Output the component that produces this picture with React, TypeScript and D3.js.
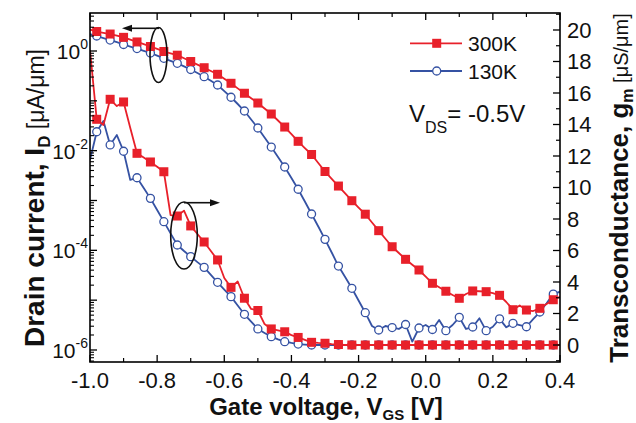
import React from 'react';
import * as d3 from 'd3';

// Gate-voltage sweep [V]
const VGS = [
  -1.0, -0.98, -0.96, -0.94, -0.92, -0.9, -0.88, -0.86, -0.84, -0.82, -0.8, -0.78, -0.76, -0.74, -0.72,
  -0.7, -0.68, -0.66, -0.64, -0.62, -0.6, -0.58, -0.56, -0.54, -0.52, -0.5, -0.48, -0.46, -0.44, -0.42,
  -0.4, -0.38, -0.36, -0.34, -0.32, -0.3, -0.28, -0.26, -0.24, -0.22, -0.2, -0.18, -0.16, -0.14, -0.12,
  -0.1, -0.08, -0.06, -0.04, -0.02, 0.0, 0.02, 0.04, 0.06, 0.08, 0.1, 0.12, 0.14, 0.16, 0.18,
  0.2, 0.22, 0.24, 0.26, 0.28, 0.3, 0.32, 0.34, 0.36, 0.38, 0.4,
];

// Drain current [uA/um]
const ID_300K = [
  2.7, 2.46, 2.32, 2.19, 2.04, 1.88, 1.69, 1.52, 1.37, 1.23, 1.1, 0.977, 0.899, 0.824, 0.714,
  0.615, 0.533, 0.462, 0.397, 0.341, 0.277, 0.225, 0.178, 0.142, 0.113, 0.0904, 0.0701, 0.0544, 0.0403, 0.0298,
  0.0214, 0.0154, 0.0113, 0.00838, 0.00565, 0.00382, 0.00272, 0.00195, 0.00139, 0.00099, 0.000723, 0.000531, 0.000362, 0.000248, 0.000171,
  0.000118, 8.83e-5, 6.6e-5, 5.14e-5, 4.03e-5, 2.96e-5, 2.18e-5, 1.81e-5, 1.51e-5, 1.27e-5, 1.09e-5, 1.33e-5, 1.53e-5, 1.51e-5, 1.48e-5,
  1.39e-5, 1.25e-5, 9.18e-6, 6.43e-6, 7.82e-6, 6.34e-6, 6.05e-6, 6.86e-6, 8.37e-6, 1.02e-5, 1.17e-5,
];
const ID_130K = [
  2.19, 2.0, 1.82, 1.66, 1.5, 1.35, 1.23, 1.12, 1.01, 0.912, 0.809, 0.714, 0.636, 0.567, 0.491,
  0.425, 0.362, 0.305, 0.252, 0.208, 0.157, 0.118, 0.0864, 0.0625, 0.0422, 0.0285, 0.0184, 0.0118, 0.00746, 0.0047,
  0.00283, 0.00168, 0.000955, 0.000536, 0.000301, 0.000166, 9.04e-5, 4.84e-5, 2.92e-5, 1.73e-5, 9.84e-6, 5.6e-6, 3.03e-6, 2.52e-6, 3.03e-6,
  2.82e-6, 2.64e-6, 3.25e-6, 1.47e-6, 2.76e-6, 3.17e-6, 2.58e-6, 4.0e-6, 2.44e-6, 3.17e-6, 4.53e-6, 2.64e-6, 2.89e-6, 4.32e-6, 2.44e-6,
  2.93e-6, 4.22e-6, 2.85e-6, 3.43e-6, 3.17e-6, 2.93e-6, 4.15e-6, 5.78e-6, 8.65e-6, 1.32e-5, 1.48e-5,
];

// Transconductance [uS/um]
const GM_300K = [
  18.73, 14.33, 13.97, 15.6, 15.17, 15.43, 13.78, 12.17, 11.9, 11.62, 11.32, 11.0, 8.25, 8.19, 8.53,
  7.56, 7.05, 6.54, 5.97, 5.4, 4.25, 3.66, 4.03, 2.97, 2.29, 2.19, 1.33, 1.02, 0.93, 0.84,
  0.63, 0.48, 0.32, 0.17, 0.13, 0.11, 0.06, 0.03, 0, 0, 0, 0, 0, 0, 0,
  0, 0, 0, 0, 0, 0, 0, 0, 0, 0, 0, 0, 0, 0, 0,
  0, 0, 0, 0, 0, 0, 0, 0, 0, 0, 0,
];
const GM_130K = [
  11.75, 13.54, 14.22, 12.7, 13.33, 12.3, 10.48, 10.62, 9.97, 9.31, 8.57, 7.83, 7.09, 6.35, 5.97,
  5.61, 5.26, 4.93, 4.45, 3.98, 3.52, 3.07, 2.51, 1.95, 1.48, 1.02, 0.76, 0.53, 0.36, 0.21,
  0.13, 0.06, 0.03, 0, 0, 0, 0, 0, 0, 0, 0, 0, 0, 0, 0,
  0, 0, 0, 0, 0, 0, 0, 0, 0, 0, 0, 0, 0, 0, 0,
  0, 0, 0, 0, 0, 0, 0, 0, 0, 0, 0,
];

const X_TICKS = [-1.0, -0.8, -0.6, -0.4, -0.2, 0.0, 0.2, 0.4];
const X_TICK_LABELS = ['-1.0', '-0.8', '-0.6', '-0.4', '-0.2', '0.0', '0.2', '0.4'];
const X_MINOR_TICKS = [-0.9, -0.7, -0.5, -0.3, -0.1, 0.1, 0.3];
const ID_DECADES = [-6, -5, -4, -3, -2, -1, 0];
const ID_LABEL_EXPONENTS = ['0', '-2', '-4', '-6'];
const GM_TICKS = [0, 2, 4, 6, 8, 10, 12, 14, 16, 18, 20];
const SERIES_LABELS = ['300K', '130K'];
const VDS_LABEL = ['V', 'DS', '= -0.5V'];

const RED = '#e8202a';
const BLUE = '#3552a3';
const FONT = '"Liberation Sans", Arial, Helvetica, sans-serif';

const W = 636;
const H = 423;
const L = 90;
const R = 560;
const T = 13;
const B = 362;

export default function App() {
  const x = d3.scaleLinear().domain([-1, 0.4]).range([L, R]);
  const yI = d3.scaleLog().domain([Math.pow(10, -6.241), Math.pow(10, 0.7626)]).range([B, T]);
  const yG = d3.scaleLinear().domain([-1.0794, 21.079]).range([B, T]);

  const lineI = d3.line<number>().x((_, i) => x(VGS[i])).y((d) => yI(d));
  const lineG = d3.line<number>().x((_, i) => x(VGS[i])).y((d) => yG(d));

  const marked = (arr: number[]) => arr.map((v, i) => ({ v, i })).filter((p) => p.i % 2 === 1);

  const SQ = 9;
  const squares = (arr: number[], y: (v: number) => number, key: string) =>
    marked(arr).map((p) => (
      <rect key={key + p.i} x={x(VGS[p.i]) - SQ / 2} y={y(p.v) - SQ / 2} width={SQ} height={SQ} fill={RED} />
    ));
  const circles = (arr: number[], y: (v: number) => number, key: string) =>
    marked(arr).map((p) => (
      <circle key={key + p.i} cx={x(VGS[p.i])} cy={y(p.v)} r={4} fill="#fff" stroke={BLUE} strokeWidth={1.3} />
    ));

  const minorDecades: number[] = [];
  for (let e = -7; e <= 0; e++) {
    for (let m = 2; m <= 9; m++) {
      const v = m * Math.pow(10, e);
      const yy = yI(v);
      if (yy >= T && yy <= B) minorDecades.push(v);
    }
  }
  const gmMinor = d3.range(-1, 22, 2).filter((v) => yG(v) >= T && yG(v) <= B);

  return (
    <svg
      width={W}
      height={H}
      viewBox={`0 0 ${W} ${H}`}
      style={{ position: 'absolute', left: 0, top: 0, background: '#fff' }}
      fontFamily={FONT}
    >
      <defs>
        <clipPath id="plotArea">
          <rect x={L} y={T} width={R - L} height={B - T} />
        </clipPath>
      </defs>

      {/* series */}
      <g clipPath="url(#plotArea)">
        <path d={lineI(ID_130K) || ''} fill="none" stroke={BLUE} strokeWidth={1.8} strokeLinejoin="round" />
        {circles(ID_130K, yI, 'ib')}
        <path d={lineG(GM_130K) || ''} fill="none" stroke={BLUE} strokeWidth={1.8} strokeLinejoin="round" />
        {circles(GM_130K, yG, 'gb')}
        <path d={lineI(ID_300K) || ''} fill="none" stroke={RED} strokeWidth={1.8} strokeLinejoin="round" />
        {squares(ID_300K, yI, 'ir')}
        <path d={lineG(GM_300K) || ''} fill="none" stroke={RED} strokeWidth={1.8} strokeLinejoin="round" />
        {squares(GM_300K, yG, 'gr')}
      </g>

      {/* frame */}
      <rect x={L} y={T} width={R - L} height={B - T} fill="none" stroke="#000" strokeWidth={1.6} />

      {/* x ticks, bottom and top, pointing inward */}
      {X_TICKS.map((t) => (
        <g key={'xt' + t}>
          <line x1={x(t)} x2={x(t)} y1={B} y2={B - 7} stroke="#000" strokeWidth={1.3} />
          <line x1={x(t)} x2={x(t)} y1={T} y2={T + 7} stroke="#000" strokeWidth={1.3} />
        </g>
      ))}
      {X_MINOR_TICKS.map((t) => (
        <g key={'xm' + t}>
          <line x1={x(t)} x2={x(t)} y1={B} y2={B - 4} stroke="#000" strokeWidth={1.2} />
          <line x1={x(t)} x2={x(t)} y1={T} y2={T + 4} stroke="#000" strokeWidth={1.2} />
        </g>
      ))}
      {X_TICKS.map((t, i) => (
        <text key={'xl' + t} x={x(t)} y={388} fontSize={22} textAnchor="middle" fill="#111">
          {X_TICK_LABELS[i]}
        </text>
      ))}

      {/* left log axis */}
      {ID_DECADES.map((e) => (
        <line key={'yd' + e} x1={L} x2={L + 7} y1={yI(Math.pow(10, e))} y2={yI(Math.pow(10, e))} stroke="#000" strokeWidth={1.3} />
      ))}
      {minorDecades.map((v, i) => (
        <line key={'ym' + i} x1={L} x2={L + 4} y1={yI(v)} y2={yI(v)} stroke="#000" strokeWidth={1.1} />
      ))}
      {ID_LABEL_EXPONENTS.map((e) => {
        const yy = yI(Math.pow(10, +e));
        return (
          <text key={'yl' + e} x={88} y={yy + 8} fontSize={21} textAnchor="end" fill="#111">
            <tspan>10</tspan>
            <tspan dy={-10} fontSize={14}>{e}</tspan>
          </text>
        );
      })}

      {/* right linear axis */}
      {GM_TICKS.map((t) => (
        <line key={'gt' + t} x1={R} x2={R - 7} y1={yG(t)} y2={yG(t)} stroke="#000" strokeWidth={1.3} />
      ))}
      {gmMinor.map((t) => (
        <line key={'gm' + t} x1={R} x2={R - 4} y1={yG(t)} y2={yG(t)} stroke="#000" strokeWidth={1.2} />
      ))}
      {GM_TICKS.map((t) => (
        <text key={'gl' + t} x={567} y={yG(t) + 8} fontSize={22} fill="#111">
          {t}
        </text>
      ))}

      {/* axis titles */}
      <text x={326} y={415} fontSize={24} fontWeight="bold" textAnchor="middle" fill="#111">
        <tspan>Gate voltage, V</tspan>
        <tspan fontSize={15} dy={5}>GS</tspan>
        <tspan dy={-5}> [V]</tspan>
      </text>
      <text transform="translate(44,198) rotate(-90)" fontSize={28} fontWeight="bold" textAnchor="middle" fill="#111">
        <tspan>Drain current, I</tspan>
        <tspan fontSize={17} dy={6}>D</tspan>
        <tspan dy={-6} fontSize={23} fontWeight="normal"> [μA/μm]</tspan>
      </text>
      <text transform="translate(628,188) rotate(-90)" fontSize={26} fontWeight="bold" textAnchor="middle" fill="#111">
        <tspan>Transconductance, g</tspan>
        <tspan fontSize={16} dy={5}>m</tspan>
        <tspan dy={-5} fontSize={20} fontWeight="normal"> [μS/μm]</tspan>
      </text>

      {/* legend */}
      <line x1={410} x2={462} y1={43.3} y2={43.3} stroke={RED} strokeWidth={1.8} />
      <rect x={436.7 - SQ / 2} y={43.3 - SQ / 2} width={SQ} height={SQ} fill={RED} />
      <text x={468} y={51} fontSize={21} fill="#111">{SERIES_LABELS[0]}</text>
      <line x1={410} x2={462} y1={71} y2={71} stroke={BLUE} strokeWidth={1.8} />
      <circle cx={436.7} cy={71} r={4} fill="#fff" stroke={BLUE} strokeWidth={1.3} />
      <text x={468} y={78.5} fontSize={21} fill="#111">{SERIES_LABELS[1]}</text>

      <text x={409} y={122} fontSize={24} fill="#111">
        <tspan>{VDS_LABEL[0]}</tspan>
        <tspan fontSize={16} dy={11}>{VDS_LABEL[1]}</tspan>
        <tspan dy={-11}>{VDS_LABEL[2]}</tspan>
      </text>

      {/* ellipse markers with arrows pointing to each axis */}
      <ellipse cx={158.5} cy={55} rx={8.5} ry={27.5} fill="none" stroke="#111" strokeWidth={1.6} />
      <line x1={159} x2={130} y1={28.3} y2={28.3} stroke="#111" strokeWidth={1.6} />
      <path d="M122,28.3 L132,24.8 L132,31.8 Z" fill="#111" />
      <ellipse cx={184} cy={235.5} rx={13.3} ry={33.5} fill="none" stroke="#111" strokeWidth={1.6} />
      <line x1={184} x2={212} y1={202.7} y2={202.7} stroke="#111" strokeWidth={1.6} />
      <path d="M220,202.7 L210,199.2 L210,206.2 Z" fill="#111" />
    </svg>
  );
}
